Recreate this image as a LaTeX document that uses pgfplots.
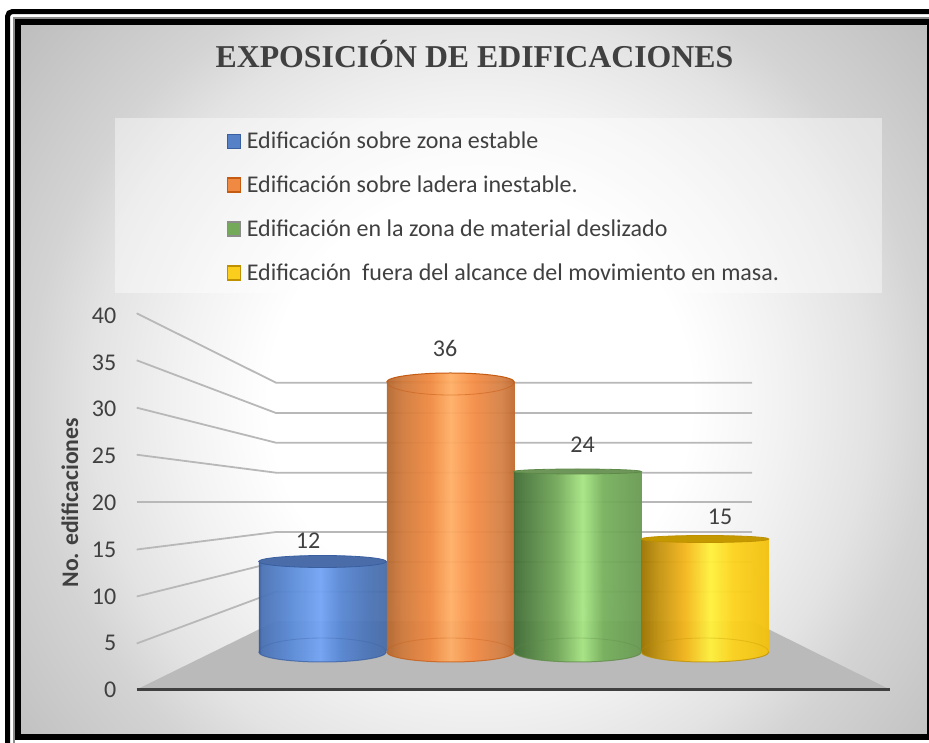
\documentclass[border=0pt]{standalone}
\usepackage{fontspec}
\setmainfont{Carlito}
\newfontfamily\titlefont{Liberation Serif}
\usepackage{pgfplots}
\pgfplotsset{compat=1.18}

\definecolor{ink}{HTML}{404040}
\definecolor{gridgray}{HTML}{B8B8B8}
\definecolor{floorgray}{HTML}{BABABA}
\definecolor{edgeblue}{HTML}{3A5FA0}
\definecolor{edgeorange}{HTML}{C55A11}
\definecolor{edgegreen}{HTML}{5E8A48}
\definecolor{edgeyellow}{HTML}{BF9000}

% background glow, bright in the middle of the chart area
\pgfdeclareradialshading{chartglow}{\pgfpoint{0bp}{0bp}}{
  color(0bp)=(white); color(8.5bp)=(white);
  color(12.1bp)=(white!95!black); color(15.7bp)=(white!89!black);
  color(18.1bp)=(white!83!black); color(24.2bp)=(white!74!black);
  color(25bp)=(white!74!black); color(50bp)=(white!74!black)}

% cylinder walls: stops run over the 25bp..75bp span of the bar width
\definecolor{b0}{HTML}{35599A}\definecolor{b1}{HTML}{4A72B4}\definecolor{b2}{HTML}{5A8AD6}
\definecolor{b3}{HTML}{74A4F4}\definecolor{b4}{HTML}{5887D4}\definecolor{b5}{HTML}{4B74B6}\definecolor{b6}{HTML}{486DA8}
\pgfdeclarehorizontalshading{cylblue}{100bp}{
  color(0bp)=(b0); color(25bp)=(b0); color(26bp)=(b1); color(37bp)=(b2);
  color(49bp)=(b3); color(57bp)=(b4); color(68bp)=(b5); color(75bp)=(b6); color(100bp)=(b6)}
\definecolor{o0}{HTML}{B46830}\definecolor{o1}{HTML}{D07A3C}\definecolor{o2}{HTML}{F08A42}
\definecolor{o3}{HTML}{FFAF66}\definecolor{o4}{HTML}{F58D46}\definecolor{o5}{HTML}{D48046}\definecolor{o6}{HTML}{C06A2E}
\pgfdeclarehorizontalshading{cylorange}{100bp}{
  color(0bp)=(o0); color(25bp)=(o0); color(31bp)=(o1); color(42bp)=(o2);
  color(50bp)=(o3); color(59bp)=(o4); color(70bp)=(o5); color(75bp)=(o6); color(100bp)=(o6)}
\definecolor{g0}{HTML}{416C35}\definecolor{g1}{HTML}{558545}\definecolor{g2}{HTML}{73A959}
\definecolor{g3}{HTML}{A7E684}\definecolor{g4}{HTML}{77B15D}\definecolor{g5}{HTML}{699A53}
\pgfdeclarehorizontalshading{cylgreen}{100bp}{
  color(0bp)=(g0); color(25bp)=(g0); color(32bp)=(g1); color(42bp)=(g2);
  color(52bp)=(g3); color(60bp)=(g4); color(75bp)=(g5); color(100bp)=(g5)}
\definecolor{y0}{HTML}{9C7400}\definecolor{y1}{HTML}{C49310}\definecolor{y2}{HTML}{F4B61A}
\definecolor{y3}{HTML}{FFF23C}\definecolor{y4}{HTML}{FDD31D}\definecolor{y5}{HTML}{F3C00E}
\pgfdeclarehorizontalshading{cylyellow}{100bp}{
  color(0bp)=(y0); color(25bp)=(y0); color(32bp)=(y1); color(42bp)=(y2);
  color(52bp)=(y3); color(61bp)=(y4); color(75bp)=(y5); color(100bp)=(y5)}

% rounded foot of a cylinder and the far rim seen through the wall
\newcommand{\cylbase}[2]{%
  \shade[shading=#1,draw=none,fill opacity=0.95] (-63.75pt,0pt)
    arc[start angle=180,end angle=360,x radius=63.75pt,y radius=10pt] -- cycle;
  \draw[#2,opacity=0.75,line width=1pt,fill=none] (-63.75pt,0pt)
    arc[start angle=180,end angle=360,x radius=63.75pt,y radius=10pt];
  \draw[#2,opacity=0.3,line width=0.9pt,fill=none] (-63.75pt,0pt)
    arc[start angle=180,end angle=0,x radius=63.75pt,y radius=14pt];}
% closed lid seen from above
\newcommand{\cyllid}[3]{%
  \fill[#1,draw=#2,line width=0.8pt] (0pt,0.5pt) ellipse[x radius=63.75pt,y radius=#3];}
\pgfdeclareplotmark{foot blue}{\cylbase{cylblue}{edgeblue}}
\pgfdeclareplotmark{foot orange}{\cylbase{cylorange}{edgeorange}}
\pgfdeclareplotmark{foot green}{\cylbase{cylgreen}{edgegreen}}
\pgfdeclareplotmark{foot yellow}{\cylbase{cylyellow}{edgeyellow}}
\pgfdeclareplotmark{lid blue}{\cyllid{edgeblue!92!white}{edgeblue}{6pt}}
\pgfdeclareplotmark{lid green}{\cyllid{edgegreen!90!white}{edgegreen}{2.5pt}}
\pgfdeclareplotmark{lid yellow}{\cyllid{edgeyellow!92!yellow}{edgeyellow}{3.5pt}}
% open top seen from below
\pgfdeclareplotmark{lid orange}{%
  \shade[shading=cylorange,draw=none,fill opacity=0.95] (-63.75pt,0pt)
    arc[start angle=180,end angle=0,x radius=63.75pt,y radius=9pt] -- cycle;
  \draw[edgeorange,line width=1pt,fill=none] (-63.75pt,0pt)
    arc[start angle=180,end angle=0,x radius=63.75pt,y radius=9pt];
  \draw[edgeorange,opacity=0.5,line width=0.8pt,fill=none] (-63.75pt,0pt)
    arc[start angle=180,end angle=360,x radius=63.75pt,y radius=13pt];}

% plain legend key, set with basic layer commands so the bar shading stays out of it
\newcommand{\swatch}[2]{%
  \pgfsetfillopacity{1}\pgfsetstrokeopacity{1}%
  \pgfsetlinewidth{1.4pt}\pgfsetstrokecolor{#2}\pgfsetfillcolor{#1}%
  \pgfpathrectangle{\pgfpoint{0.8pt}{-7pt}}{\pgfpoint{13.4pt}{14pt}}%
  \pgfusepath{fill,stroke}}

\pgfplotsset{
  canvas/.style={at={(0pt,0pt)},anchor=south west,scale only axis,
    width=929pt,height=742pt,xmin=0,xmax=929,hide axis,clip=false},
  cyl/.style={ybar,bar width=127.5pt,bar shift=0pt,draw=none,shade,shading=#1,fill opacity=0.95},
  wall/.style={gridgray,line width=1.8pt,no marks,forget plot},
}

\begin{document}
\begin{tikzpicture}
\useasboundingbox (0pt,0pt) rectangle (929pt,742pt);

% canvas in pixel-like units: frame, panel, floor and walls
\begin{axis}[canvas,ymin=0,ymax=742,y dir=reverse]
  \fill[white] (axis cs:0,0) rectangle (axis cs:929,742);
  \begin{scope}
    \clip (axis cs:20.5,25) rectangle (axis cs:926.5,734);
    \shade[shading=chartglow] (axis cs:480,400) circle[radius=620pt];
  \end{scope}
  \draw[black,line width=5pt,rounded corners=5pt]
    (axis cs:7.5,760) -- (axis cs:7.5,11.5) -- (axis cs:945,11.5);
  \draw[black!45,line width=1.2pt]
    (axis cs:14,760) -- (axis cs:14,18) -- (axis cs:945,18);
  \draw[black,line width=6pt] (axis cs:18,737.3) rectangle (axis cs:929.5,22);
  \fill[white,fill opacity=0.42] (axis cs:115,118) rectangle (axis cs:882,293);
  \node[anchor=base,font=\titlefont\bfseries\fontsize{31.8}{38}\selectfont,text=ink]
    at (axis cs:474.5,67.7) {EXPOSICIÓN DE EDIFICACIONES};

  \addplot[fill=floorgray,draw=none,forget plot] coordinates
    {(136.7,689.5) (890,689.5) (752,621) (276,621) (136.7,689.5)};
  % side wall and rear wall grid lines for 5, 10, ..., 40
  \addplot[wall] coordinates {(136.7,313.3) (276,382.7) (752,382.7)};
  \addplot[wall] coordinates {(136.7,360.3) (276,413.0) (752,413.0)};
  \addplot[wall] coordinates {(136.7,407.7) (276,442.7) (752,442.7)};
  \addplot[wall] coordinates {(136.7,454.7) (276,472.7) (752,472.7)};
  \addplot[wall] coordinates {(136.7,502.3) (276,502.3) (752,502.3)};
  \addplot[wall] coordinates {(136.7,549.5) (276,532.0) (752,532.0)};
  \addplot[wall] coordinates {(136.7,596.5) (276,562.0) (752,562.0)};
  \addplot[wall] coordinates {(136.7,643.5) (276,591.7) (752,591.7)};
  \addplot[ink,line width=2.6pt,no marks,forget plot] coordinates {(136.7,689.5) (890,689.5)};
\end{axis}

% value scale along the front edge of the side wall
\begin{axis}[
  at={(136.7pt,52pt)},anchor=south west,scale only axis,
  width=100pt,height=374.3pt,
  xmin=0,xmax=1,ymin=0,ymax=40,
  axis line style={draw=none},
  xtick=\empty,
  ytick={0,5,...,40},
  major tick length=0pt,
  /pgf/number format/assume math mode=true,
  yticklabel style={font=\fontsize{24}{28}\selectfont,text=ink,anchor=east,xshift=-17pt},
  ylabel={\bfseries No. edificaciones},
  every axis y label/.style={at={(axis description cs:0,0.5)},xshift=-66.7pt,rotate=90,
    anchor=center,font=\fontsize{23.7}{28}\selectfont,text=ink},
]
\end{axis}

% cylinders: values read directly on the depth scale of the bars
\begin{axis}[
  canvas,ymin=-12,ymax=86.9333,
  /pgf/number format/assume math mode=true,
  nodes near coords,
  every node near coord/.append style={anchor=center,text=ink,fill opacity=1,text opacity=1,
    font=\fontsize{24}{28}\selectfont},
  legend style={at={(axis cs:226.5,69.3)},anchor=north west,draw=none,fill=none,
    inner sep=0pt,outer sep=0pt,row sep=25.7pt,text=ink,
    font=\fontsize{24}{28}\selectfont,
    nodes={inner xsep=5.5pt,inner ysep=0pt}},
  legend cell align=left,
]
  \addplot[cyl=cylblue,legend image code/.code={\swatch{b1!70!b3}{edgeblue}},
    every node near coord/.append style={xshift=-14.5pt,yshift=21pt}]
    coordinates {(322.5,12)};
  \addlegendentry{Edificación sobre zona estable}
  \addplot[cyl=cylorange,legend image code/.code={\swatch{o2}{edgeorange}},
    every node near coord/.append style={xshift=-5.5pt,yshift=34pt}]
    coordinates {(450.5,36)};
  \addlegendentry{Edificación sobre ladera inestable.}
  \addplot[cyl=cylgreen,legend image code/.code={\swatch{g2}{black!45}},
    every node near coord/.append style={xshift=5pt,yshift=27pt}]
    coordinates {(577.5,24)};
  \addlegendentry{Edificación en la zona de material deslizado}
  \addplot[cyl=cylyellow,legend image code/.code={\swatch{y4!80!y2}{edgeyellow}},
    every node near coord/.append style={xshift=15pt,yshift=23pt}]
    coordinates {(705,15)};
  \addlegendentry{Edificación\ \ fuera del alcance del movimiento en masa.}

  \addplot[only marks,mark=foot blue,forget plot,nodes near coords=\empty] coordinates {(322.5,0)};
  \addplot[only marks,mark=foot orange,forget plot,nodes near coords=\empty] coordinates {(450.5,0)};
  \addplot[only marks,mark=foot green,forget plot,nodes near coords=\empty] coordinates {(577.5,0)};
  \addplot[only marks,mark=foot yellow,forget plot,nodes near coords=\empty] coordinates {(705,0)};
  \addplot[only marks,mark=lid blue,forget plot,nodes near coords=\empty] coordinates {(322.5,12)};
  \addplot[only marks,mark=lid orange,forget plot,nodes near coords=\empty] coordinates {(450.5,36)};
  \addplot[only marks,mark=lid green,forget plot,nodes near coords=\empty] coordinates {(577.5,24)};
  \addplot[only marks,mark=lid yellow,forget plot,nodes near coords=\empty] coordinates {(705,15)};
\end{axis}
\end{tikzpicture}
\end{document}
